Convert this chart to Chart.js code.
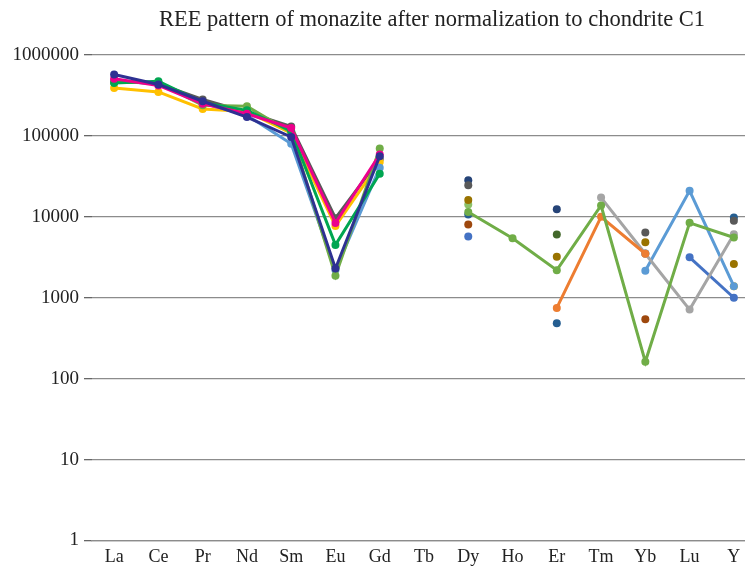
<!DOCTYPE html>
<html>
<head>
<meta charset="utf-8">
<script src="https://cdn.jsdelivr.net/npm/chart.js@4.4.0/dist/chart.umd.min.js"></script>
<style>
  html, body { margin: 0; padding: 0; background: #fff; overflow: hidden; }
  #wrap { position: relative; width: 745px; height: 569px; overflow: hidden; }
  #title { position: absolute; left: 132px; width: 600px; top: 6px; text-align: center; white-space: nowrap;
           font: 22.5px 'Liberation Serif', 'Times New Roman', serif; color: #222; }
  canvas { position: absolute; left: 0; top: 0; }
</style>
</head>
<body>
<div id="wrap">
  <canvas id="chart" width="760" height="569"></canvas>
  <div id="title">REE pattern of monazite after normalization to chondrite C1</div>
</div>
<script>
// categories (REE + Y)
const elements = ['La', 'Ce', 'Pr', 'Nd', 'Sm', 'Eu', 'Gd', 'Tb', 'Dy', 'Ho', 'Er', 'Tm', 'Yb', 'Lu', 'Y'];
const yTicks = [1, 10, 100, 1000, 10000, 100000, 1000000];

// chondrite-normalized values, null = not measured
const navy      = [575000, 433000, 268000, 171000, 97000, 2300, 56000, null, null, null, null, null, null, null, null];
const magenta   = [510000, 420000, 250000, 188000, 125000, 8400, 59000, null, null, null, null, null, null, null, null];
const green     = [450000, 475000, 258000, 207000, 115000, 4500, 34000, null, null, null, null, null, null, null, null];
const lightGreen= [460000, 455000, 240000, 232000, 110000, 1870, 70000, null, 11500, 5450, 2190, 13800, 162, 8430, 5560];
const yellow    = [390000, 350000, 215000, 200000, 108000, 7700, 47500, null, null, null, null, null, null, null, 1390];
const lightBlue = [470000, 445000, 255000, 180000, 80000, 2200, 40500, null, null, null, null, null, 2150, 21000, 1390];
const darkGray  = [480000, 440000, 282000, 196000, 131000, 9600, 52000, null, 24500, null, null, null, 6400, null, 8930];
const orange    = [null, null, null, null, null, null, null, null, null, null, 748, 10000, 3500, null, null];
const gray      = [null, null, null, null, null, null, null, null, null, null, null, 17300, 3500, 714, 6100];
const blue      = [null, null, null, null, null, null, null, null, 5700, null, null, null, null, 3160, 1000];
const gold      = [null, null, null, null, null, null, null, null, 16100, null, 3200, null, 4860, null, 2620];
const darkBlue  = [null, null, null, null, null, null, null, null, 28400, null, 12450, null, null, null, null];
const steelBlue = [null, null, null, null, null, null, null, null, 10700, null, 483, null, 3520, null, 9800];
const rust      = [null, null, null, null, null, null, null, null, 8050, null, null, null, 542, null, null];
const darkGreen = [null, null, null, null, null, null, null, null, null, null, 6050, null, null, null, null];
const paleGreen = [null, null, null, null, null, null, null, null, 14200, null, null, null, null, null, null];

const serif = "'Liberation Serif', 'Times New Roman', serif";

// first in list is drawn on top
const series = [
  ['navy', navy, '#2E3192'],
  ['magenta', magenta, '#EC008C'],
  ['green', green, '#00A651'],
  ['lightGreen', lightGreen, '#70AD47'],
  ['orange', orange, '#ED7D31'],
  ['gray', gray, '#A5A5A5'],
  ['lightBlue', lightBlue, '#5B9BD5'],
  ['yellow', yellow, '#FFC000'],
  ['darkGray', darkGray, '#595959'],
  ['blue', blue, '#4472C4'],
  ['gold', gold, '#997300'],
  ['darkBlue', darkBlue, '#264478'],
  ['steelBlue', steelBlue, '#255E91'],
  ['rust', rust, '#9E480E'],
  ['darkGreen', darkGreen, '#43682B'],
  ['paleGreen', paleGreen, '#8CC168']
];

const datasets = series.map(([name, values, color]) => ({
  label: name,
  data: values,
  borderColor: color,
  backgroundColor: color,
  borderWidth: 3,
  pointRadius: 4,
  pointBorderWidth: 0,
  pointBackgroundColor: color,
  spanGaps: false,
  tension: 0
}));

new Chart(document.getElementById('chart').getContext('2d'), {
  type: 'line',
  data: { labels: elements, datasets: datasets },
  options: {
    responsive: false,
    animation: false,
    layout: { padding: { top: 55, right: 3, left: 0, bottom: 0 } },
    plugins: {
      legend: { display: false },
      title: { display: false },
      tooltip: { enabled: false }
    },
    scales: {
      x: {
        type: 'category',
        offset: true,
        grid: { display: false, drawTicks: false },
        border: { display: true, color: '#8c8c8c', width: 1.3 },
        ticks: { font: { family: serif, size: 18 }, color: '#222', padding: 6 },
        afterFit: s => { s.height = 28.5; }
      },
      y: {
        type: 'logarithmic',
        min: 1,
        max: 1000000,
        afterBuildTicks: s => { s.ticks = yTicks.map(v => ({ value: v })); },
        afterFit: s => { s.width = 92; },
        ticks: {
          font: { family: serif, size: 19 },
          color: '#222',
          padding: 5,
          callback: v => String(v)
        },
        grid: { color: '#8c8c8c', lineWidth: 1.3, tickLength: 8, tickColor: '#666' },
        border: { display: false }
      }
    }
  }
});
</script>
</body>
</html>
